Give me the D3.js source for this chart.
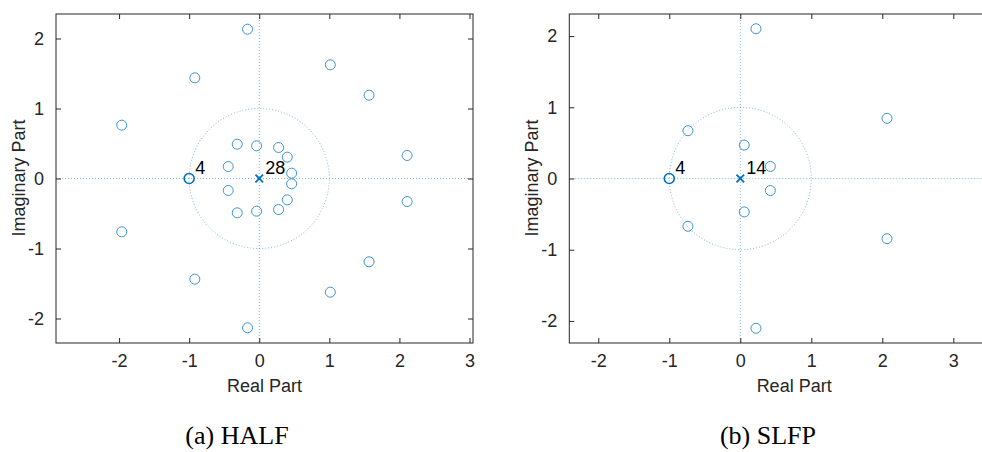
<!DOCTYPE html>
<html>
<head>
<meta charset="utf-8">
<script src="https://cdn.jsdelivr.net/npm/d3@7"></script>
<style>
  body { margin: 0; background: #fff; }
  svg { display: block; }
</style>
</head>
<body>
<svg id="fig" width="982" height="452"></svg>
<script>
// zeros (upper half plane only, conjugates are added below)
const half_zeros_re = [-0.167, -0.919, 1.014, 1.567, -1.962, 2.110, -0.314, -0.038, 0.276, 0.400, -0.443, 0.462];
const half_zeros_im = [2.133, 1.438, 1.624, 1.190, 0.762, 0.329, 0.490, 0.467, 0.443, 0.305, 0.171, 0.076];
const slfp_zeros_re = [0.221, -0.737, 0.056, 0.423, 2.066];
const slfp_zeros_im = [2.103, 0.671, 0.469, 0.169, 0.845];

// repeated zero at -1 and the pole at 0 with their multiplicity
const multi_zero = [-1, 0];
const pole = [0, 0];
const half_counts = [4, 28];
const slfp_counts = [4, 14];

const ticks = [-2, -1, 0, 1, 2, 3];
const yticks = [-2, -1, 0, 1, 2];
const captions = ["(a) HALF", "(b) SLFP"];

const blue = "#0072BD";
const svg = d3.select("#fig");
const fmt = d => (d < 0 ? "-" + Math.abs(d) : String(d)); // plain hyphen like matlab

function conj(re, im) {
	let pts = [];
	for (let i = 0; i < re.length; i++) {
		pts.push([re[i], im[i]]);
		pts.push([re[i], -im[i]]);
	}
	return pts;
}

function panel(opt) {
	let g = svg.append("g");
	let x = d3.scaleLinear().domain(opt.xdom).range([opt.left, opt.right]);
	let y = d3.scaleLinear().domain(opt.ydom).range([343, 14]);

	// clip to the axes box
	let cid = "clip" + opt.id;
	g.append("clipPath").attr("id", cid).append("rect")
		.attr("x", opt.left).attr("y", 14)
		.attr("width", opt.right - opt.left).attr("height", 329);
	let inner = g.append("g").attr("clip-path", "url(#" + cid + ")");

	// unit circle + axes lines (dotted)
	let circ = d3.range(0, 361, 2).map(function(a) {
		return [Math.cos(a * Math.PI / 180), Math.sin(a * Math.PI / 180)];
	});
	inner.append("path")
		.datum(circ)
		.attr("d", d3.line().x(d => x(d[0])).y(d => y(d[1])))
		.attr("fill", "none")
		.attr("stroke", blue)
		.attr("stroke-width", 0.7)
		.attr("stroke-dasharray", "1,2")
		.attr("opacity", 0.7);
	inner.append("line")
		.attr("x1", opt.left).attr("x2", opt.right)
		.attr("y1", y(0)).attr("y2", y(0))
		.attr("stroke", blue).attr("stroke-width", 0.7)
		.attr("stroke-dasharray", "1,2").attr("opacity", 0.7);
	inner.append("line")
		.attr("x1", x(0)).attr("x2", x(0))
		.attr("y1", 14).attr("y2", 343)
		.attr("stroke", blue).attr("stroke-width", 0.7)
		.attr("stroke-dasharray", "1,2").attr("opacity", 0.7);

	// zeros
	inner.selectAll("circle.z")
		.data(conj(opt.re, opt.im))
		.enter().append("circle")
		.attr("class", "z")
		.attr("cx", d => x(d[0]))
		.attr("cy", d => y(d[1]))
		.attr("r", 5)
		.attr("fill", "none")
		.attr("stroke", "#3c93d6")
		.attr("stroke-width", 1);

	// multiple zero
	inner.append("circle")
		.attr("cx", x(multi_zero[0])).attr("cy", y(multi_zero[1]))
		.attr("r", 5)
		.attr("fill", "none")
		.attr("stroke", blue)
		.attr("stroke-width", 1.6);

	// pole
	let px = x(pole[0]), py = y(pole[1]), s = 3.8;
	inner.append("path")
		.attr("d", "M" + (px - s) + "," + (py - s) + "L" + (px + s) + "," + (py + s) +
			"M" + (px - s) + "," + (py + s) + "L" + (px + s) + "," + (py - s))
		.attr("stroke", blue)
		.attr("stroke-width", 1.8);

	// multiplicity labels
	g.append("text").attr("x", x(multi_zero[0]) + 6).attr("y", y(multi_zero[1]) - 5)
		.attr("class", "lbl").text(opt.counts[0]);
	g.append("text").attr("x", x(pole[0]) + 6).attr("y", y(pole[1]) - 5)
		.attr("class", "lbl").text(opt.counts[1]);

	// box
	g.append("rect")
		.attr("x", opt.left).attr("y", 14)
		.attr("width", opt.right - opt.left).attr("height", 329)
		.attr("fill", "none").attr("stroke", "#262626").attr("stroke-width", 1);

	// ticks on all four sides, inward
	g.append("g").attr("transform", "translate(0,343)")
		.call(d3.axisBottom(x).tickValues(ticks).tickSizeInner(-5).tickSizeOuter(0).tickPadding(11)
			.tickFormat(fmt));
	g.append("g").attr("transform", "translate(0,14)")
		.call(d3.axisTop(x).tickValues(ticks).tickSizeInner(-5).tickSizeOuter(0).tickFormat(""));
	g.append("g").attr("transform", "translate(" + opt.left + ",0)")
		.call(d3.axisLeft(y).tickValues(yticks).tickSizeInner(-5).tickSizeOuter(0).tickPadding(12)
			.tickFormat(fmt));
	g.append("g").attr("transform", "translate(" + opt.right + ",0)")
		.call(d3.axisRight(y).tickValues(yticks).tickSizeInner(-5).tickSizeOuter(0).tickFormat(""));

	g.selectAll(".domain").remove();
	g.selectAll(".tick line").attr("stroke", "#262626");
	g.selectAll(".tick text")
		.attr("font-family", "'Liberation Sans', Arial, sans-serif")
		.attr("font-size", 18)
		.attr("fill", "#262626");

	g.selectAll(".lbl")
		.attr("font-family", "'Liberation Sans', Arial, sans-serif")
		.attr("font-size", 18)
		.attr("fill", "#000");

	// axis titles
	g.append("text")
		.attr("x", (opt.left + opt.right) / 2).attr("y", 392)
		.attr("text-anchor", "middle")
		.attr("font-family", "'Liberation Sans', Arial, sans-serif")
		.attr("font-size", 18).attr("fill", "#262626")
		.text("Real Part");
	g.append("text")
		.attr("transform", "translate(" + (opt.left - 31) + ",178) rotate(-90)")
		.attr("text-anchor", "middle")
		.attr("font-family", "'Liberation Sans', Arial, sans-serif")
		.attr("font-size", 18).attr("fill", "#262626")
		.text("Imaginary Part");

	// caption
	svg.append("text")
		.attr("x", opt.capx).attr("y", 444)
		.attr("text-anchor", "middle")
		.attr("font-family", "'Liberation Serif', 'DejaVu Serif', serif")
		.attr("font-size", 26).attr("fill", "#000")
		.text(opt.caption);
}

panel({id: 1, left: 56, right: 473, xdom: [-2.9, 3.05], ydom: [-2.35, 2.35],
	re: half_zeros_re, im: half_zeros_im, counts: half_counts, caption: captions[0], capx: 237});
panel({id: 2, left: 569.3, right: 1019, xdom: [-2.408, 3.925], ydom: [-2.31, 2.31],
	re: slfp_zeros_re, im: slfp_zeros_im, counts: slfp_counts, caption: captions[1], capx: 768});
</script>
</body>
</html>
